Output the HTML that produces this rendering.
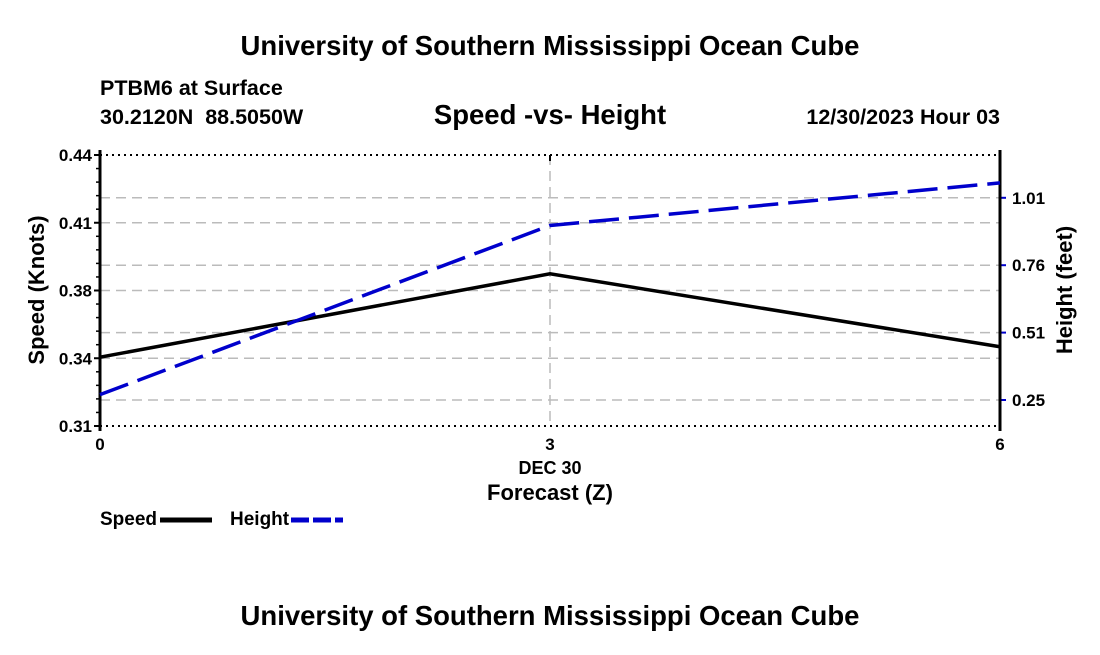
<!DOCTYPE html>
<html><head><meta charset="utf-8">
<style>
body{margin:0;background:#fff;}
svg text{font-family:"Liberation Sans",Arial,sans-serif;font-weight:bold;fill:#000;}
</style></head>
<body>
<svg id="chart" width="1100" height="650" xmlns="http://www.w3.org/2000/svg">
<text x="550" y="55" font-size="27.5" text-anchor="middle">University of Southern Mississippi Ocean Cube</text>
<text x="100" y="95" font-size="21.5">PTBM6 at Surface</text>
<text x="100" y="124" font-size="21.5">30.2120N&#160;&#160;88.5050W</text>
<text x="550" y="124" font-size="27.5" text-anchor="middle">Speed -vs- Height</text>
<text x="1000" y="124" font-size="21.5" text-anchor="end">12/30/2023 Hour 03</text>
<g id="grid"></g>
<g id="axes"></g>
<g id="series"></g>
<text x="550" y="474" font-size="18" text-anchor="middle">DEC 30</text>
<text x="550" y="500" font-size="22" text-anchor="middle">Forecast (Z)</text>
<text transform="translate(44,290) rotate(-90)" font-size="22" text-anchor="middle">Speed (Knots)</text>
<text transform="translate(1072,290) rotate(-90)" font-size="22" text-anchor="middle">Height (feet)</text>
<g>
<text x="100" y="525" font-size="19">Speed</text>
<line x1="160" y1="520" x2="212" y2="520" stroke="#000" stroke-width="5"/>
<text x="230" y="525" font-size="19">Height</text>
<line x1="291" y1="520" x2="343" y2="520" stroke="#0000cc" stroke-width="5" stroke-dasharray="18,4"/>
</g>
<text x="550" y="625" font-size="27.5" text-anchor="middle">University of Southern Mississippi Ocean Cube</text>
</svg>
<script>
const hours=[0,3,6];
const speedValues=[0.343,0.383,0.348];
const heightValues=[0.27,0.905,1.065];
const speedTicks=[0.31,0.3425,0.375,0.4075,0.44];
const speedTickLabels=["0.31","0.34","0.38","0.41","0.44"];
const heightTicks=[0.25,0.503,0.756,1.009];
const heightTickLabels=["0.25","0.51","0.76","1.01"];
const xTickLabels=["0","3","6"];
const NS="http://www.w3.org/2000/svg";
const X0=100,X1=1000,Y0=426,Y1=155;
const xs=h=>X0+(h-0)/(6-0)*(X1-X0);
const ys=v=>Y0-(v-0.31)/(0.44-0.31)*(Y0-Y1);
const hPer=67.4/0.253;
const yh=v=>400-(v-0.25)*hPer;
function mk(tag,attrs,parent,text){const e=document.createElementNS(NS,tag);for(const k in attrs)e.setAttribute(k,attrs[k]);if(text!==undefined)e.textContent=text;document.getElementById(parent).appendChild(e);return e;}
speedTicks.forEach((v,i)=>{
 const y=ys(v);
 const edge=(i===0||i===speedTicks.length-1);
 const l=mk('line',{x1:X0,x2:X1,y1:y,y2:y,stroke:edge?'#000':'#bbb','stroke-width':edge?2:1.5,'stroke-dasharray':edge?'2,4':'10,6'},'grid');
 
 
 const t=mk('line',{x1:X0-6,x2:X0,y1:y,y2:y,stroke:'#000','stroke-width':2},'axes');
 
 
 const tx=mk('text',{x:X0-8,y:y+6,'font-size':17,'text-anchor':'end'},'axes',speedTickLabels[i]);
 
 
 if(i<speedTicks.length-1){for(let k=1;k<5;k++){const yy=y-(ys(speedTicks[i])-ys(speedTicks[i+1]))*k/5;
  const m=mk('line',{x1:X0-4,x2:X0,y1:yy,y2:yy,stroke:'#000','stroke-width':1.5},'axes');
  
  }}
});
heightTicks.forEach((v,i)=>{
 const y=yh(v);
 const l=mk('line',{x1:X0,x2:X1,y1:y,y2:y,stroke:'#bbb','stroke-width':1.5,'stroke-dasharray':'10,6'},'grid');
 
 
 const t=mk('line',{x1:X1,x2:X1+6,y1:y,y2:y,stroke:'#0000cc','stroke-width':2},'axes');
 
 
 const tx=mk('text',{x:X1+12,y:y+6,'font-size':17},'axes',heightTickLabels[i]);
 
 
});
hours.forEach((h,i)=>{
 const x=xs(h);
 if(i===1){const v=mk('line',{x1:x,x2:x,y1:Y1,y2:Y0,stroke:'#bbb','stroke-width':1.5,'stroke-dasharray':'10,6'},'grid');
  
  
  const t=mk('line',{x1:x,x2:x,y1:Y1,y2:Y1+6,stroke:'#000','stroke-width':2},'axes');
  
  }
 const tx=mk('text',{x:x,y:Y0+24,'font-size':17,'text-anchor':'middle'},'axes',xTickLabels[i]);
 
 
});
const la=mk('line',{x1:X0,x2:X0,y1:Y1-5,y2:Y0+5,stroke:'#000','stroke-width':3},'axes');


const ra=mk('line',{x1:X1,x2:X1,y1:Y1-5,y2:Y0+5,stroke:'#000','stroke-width':3},'axes');


const sp=mk('polyline',{points:hours.map((h,i)=>xs(h)+','+ys(speedValues[i])).join(' '),fill:'none',stroke:'#000','stroke-width':3.5},'series');


const hp=mk('polyline',{points:hours.map((h,i)=>xs(h)+','+yh(heightValues[i])).join(' '),fill:'none',stroke:'#0000cc','stroke-width':3.5,'stroke-dasharray':'30,10'},'series');


</script>
</body></html>
